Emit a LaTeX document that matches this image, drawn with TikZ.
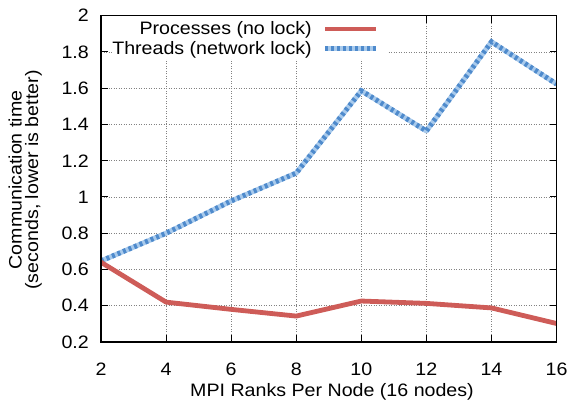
\documentclass[tikz,border=0pt]{standalone}
\usepackage{fontspec}
\setmainfont{Liberation Sans}[FakeStretch=1.09]
\definecolor{procred}{RGB}{206,92,88}
\definecolor{thrdark}{RGB}{78,138,204}
\definecolor{thrlight}{RGB}{168,202,236}
\definecolor{gridgray}{RGB}{130,130,130}
\begin{document}
\begin{tikzpicture}[x=1pt,y=1pt,
  lbl/.style={font=\fontsize{18}{20}\selectfont, inner sep=0pt},
  gridline/.style={gridgray, line width=0.7pt, dash pattern=on 1pt off 1.5pt},
  frame/.style={black, line width=1.4pt},
  tickmark/.style={black, line width=1pt},
  procline/.style={procred, line width=4.8pt, line join=round},
  thrbase/.style={thrlight, line width=5pt, line join=round},
  thrdots/.style={thrdark, line width=5pt, dash pattern=on 3pt off 3pt}]
\useasboundingbox (0,0) rectangle (572,401);
\begin{scope}[x=32.54pt, y=181.28pt, shift={(35.92pt,22.74pt)}]
  % grid
  \foreach \v in {4,6,...,14} \draw[gridline] (\v,0.2) -- (\v,2);
  \foreach \w in {0.4,0.6,...,1.85} \draw[gridline] (2,\w) -- (16,\w);
  % ticks
  \foreach \v in {4,6,...,14} {
    \draw[tickmark] (\v,0.2) -- ++(0,7pt);
    \draw[tickmark] (\v,2) -- ++(0,-7pt);
  }
  \foreach \w in {0.4,0.6,...,1.85} {
    \draw[tickmark] (2,\w) -- ++(7pt,0);
    \draw[tickmark] (16,\w) -- ++(-7pt,0);
  }
  % tick labels
  \foreach \v in {2,4,...,16} \node[lbl, anchor=base] (xt\v) at ([yshift=-33pt]\v,0.2) {\v};
  \foreach \w/\t in {0.2/0.2,0.4/0.4,0.6/0.6,0.8/0.8,1.0/1,1.2/1.2,1.4/1.4,1.6/1.6,1.8/1.8,2.0/2}
    \node[lbl, anchor=east] at ([xshift=-12pt]2,\w) {\t};
  % data
  \coordinate (p2) at (2,0.640);
  \coordinate (p4) at (4,0.420);
  \coordinate (p6) at (6,0.380);
  \coordinate (p8) at (8,0.343);
  \coordinate (p10) at (10,0.426);
  \coordinate (p12) at (12,0.413);
  \coordinate (p14) at (14,0.388);
  \coordinate (p16) at (16,0.302);
  \coordinate (t2) at (2,0.647);
  \coordinate (t4) at (4,0.800);
  \coordinate (t6) at (6,0.978);
  \coordinate (t8) at (8,1.132);
  \coordinate (t10) at (10,1.586);
  \coordinate (t12) at (12,1.364);
  \coordinate (t14) at (14,1.856);
  \coordinate (t16) at (16,1.623);
  \begin{scope}
    \clip (2,0.2) rectangle (16,2);
    \draw[thrbase] (t2) -- (t4) -- (t6) -- (t8) -- (t10) -- (t12) -- (t14) -- (t16);
    \draw[thrdots] (t2) -- (t4) -- (t6) -- (t8) -- (t10) -- (t12) -- (t14) -- (t16);
    \draw[procline] (p2) -- (p4) -- (p6) -- (p8) -- (p10) -- (p12) -- (p14) -- (p16);
  \end{scope}
  % frame
  \draw[frame] (2,0.2) rectangle (16,2);
\end{scope}
% legend
\fill[white] (113,342) rectangle (388,384.5);
\node[lbl, anchor=base east] (lp) at (312,366) {Processes (no lock)};
\node[lbl, anchor=base east] (lt) at (312,346.5) {Threads (network lock)};
\coordinate (lpa) at (325,372);
\coordinate (lpb) at (376,372);
\coordinate (lta) at (325,352);
\coordinate (ltb) at (376,352);
\draw[procline] (lpa) -- (lpb);
\draw[thrbase] (lta) -- (ltb);
\draw[thrdots] (lta) -- (ltb);
% axis labels
\node[lbl, anchor=base] (xl) at (332,4.5) {MPI Ranks Per Node (16 nodes)};
\node[lbl, rotate=90, align=center, font=\fontsize{18}{16.5}\selectfont] (yl) at (25.3,221) {Communication time\\(seconds, lower is better)};
\end{tikzpicture}
\end{document}
